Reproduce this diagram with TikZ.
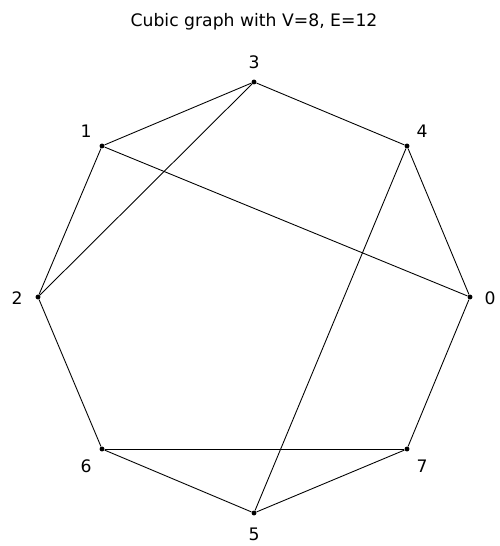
\documentclass[tikz,border=0pt]{standalone}
\usepackage{fontspec}
\setmainfont{DejaVu Sans}
\begin{document}
\begin{tikzpicture}[x=0.02cm,y=-0.02cm,
  vtx/.style={circle,fill=black,inner sep=0pt,minimum size=2.8pt},
  lbl/.style={font=\fontsize{9.8}{11}\selectfont,inner sep=0pt},
  edge/.style={line width=0.5pt}]
\useasboundingbox (0,0) rectangle (499,546);
\node[lbl] (title) at (254,22) {Cubic graph with V=8, E=12};
\node[vtx] (v0) at (470,297) {};
\node[vtx] (v4) at (407,146) {};
\node[vtx] (v3) at (254,82) {};
\node[vtx] (v1) at (102,146) {};
\node[vtx] (v2) at (38,297) {};
\node[vtx] (v6) at (102,449) {};
\node[vtx] (v5) at (254,513) {};
\node[vtx] (v7) at (407,449) {};
\node[lbl] (l0) at (490,298) {0};
\node[lbl] (l4) at (422,131) {4};
\node[lbl] (l3) at (254,62) {3};
\node[lbl] (l1) at (86,131) {1};
\node[lbl] (l2) at (17,298) {2};
\node[lbl] (l6) at (86,466) {6};
\node[lbl] (l5) at (254,534) {5};
\node[lbl] (l7) at (422,466) {7};
\draw[edge] (v3) -- (v4);
\draw[edge] (v3) -- (v1);
\draw[edge] (v3) -- (v2);
\draw[edge] (v1) -- (v2);
\draw[edge] (v1) -- (v0);
\draw[edge] (v4) -- (v0);
\draw[edge] (v4) -- (v5);
\draw[edge] (v0) -- (v7);
\draw[edge] (v7) -- (v6);
\draw[edge] (v7) -- (v5);
\draw[edge] (v2) -- (v6);
\draw[edge] (v6) -- (v5);
\end{tikzpicture}
\end{document}
